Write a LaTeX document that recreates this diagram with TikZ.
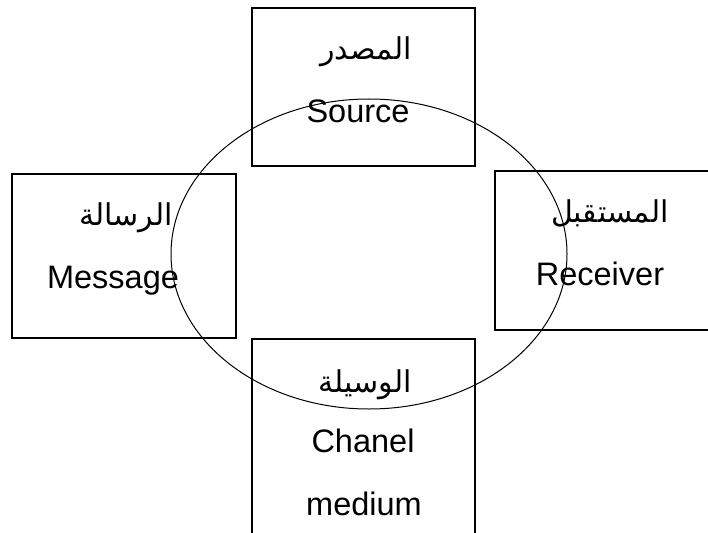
\documentclass[tikz,border=0pt]{standalone}
\usepackage{fontspec}
\setmainfont{Liberation Sans}
\newfontfamily\arabicfont[Script=Arabic]{DejaVu Sans}
\TeXXeTstate=1
\usetikzlibrary{positioning}

\begin{document}
\begin{tikzpicture}[
  x=1pt, y=-1pt,
  box/.style={draw, line width=1.1pt, inner sep=0pt},
  en/.style={font=\fontsize{32.5}{36}\selectfont, anchor=base, inner sep=0pt},
  arb/.style={font=\fontsize{30}{34}\selectfont\arabicfont, anchor=base, inner sep=0pt},
  ring/.style={line width=1pt}
]
\useasboundingbox (0,0) rectangle (708,532);
\clip (0,0) rectangle (708,532);
\node[box, minimum width=223pt, minimum height=158pt] (src) at (363.5,87) {};
\node[box, minimum width=224pt, minimum height=164pt] (msg) at (124,256) {};
\node[box, minimum width=217pt, minimum height=159pt] (rcv) at (603.5,250.5) {};
\node[box, minimum width=223pt, minimum height=201pt] (chn) at (363.5,439.5) {};
\node[arb] (srcar) at (366,60)  {\beginR المصدر\endR};
\node[en]  (srcen) at (358,122) {Source};
\node[arb] (msgar) at (126,225) {\beginR الرسالة\endR};
\node[en]  (msgen) at (113,288) {Message};
\node[arb] (rcvar) at (610,222) {\beginR المستقبل\endR};
\node[en]  (rcven) at (600,285) {Receiver};
\node[arb] (chnar) at (365,392) {\beginR الوسيلة\endR};
\node[en]  (chnen) at (363,452) {Chanel};
\node[en]  (chnmd) at (364,515) {medium};
\draw[ring] (369,254) ellipse [x radius=198pt, y radius=155pt];
\end{tikzpicture}
\end{document}
